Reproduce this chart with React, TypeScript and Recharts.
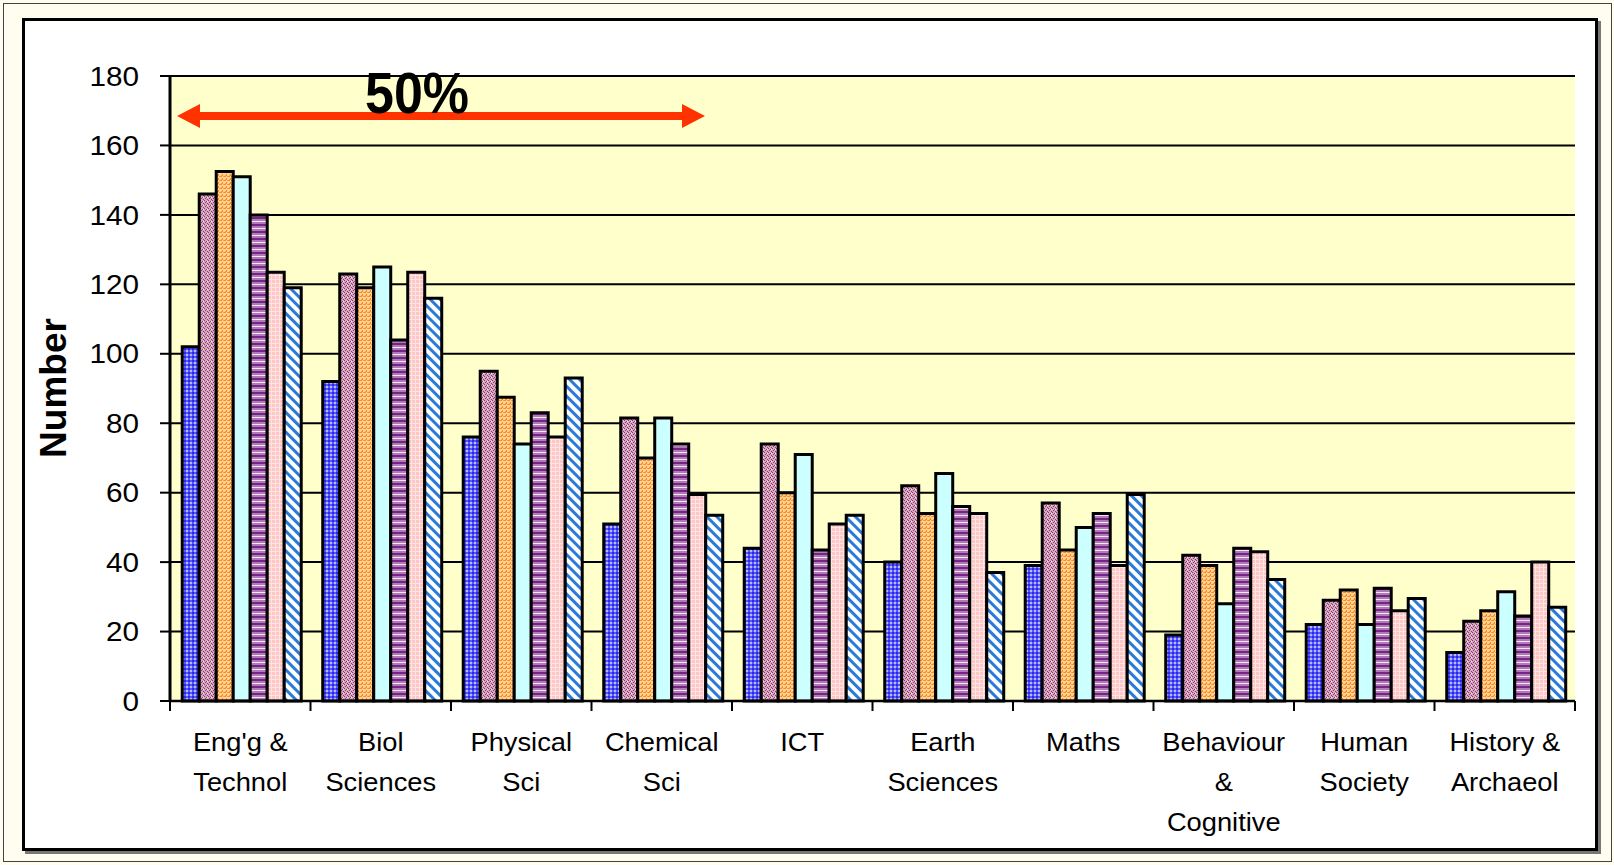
import { BarChart, Bar, XAxis, YAxis, CartesianGrid } from 'recharts'

const categories = [
  "Eng'g &\nTechnol",
  'Biol\nSciences',
  'Physical\nSci',
  'Chemical\nSci',
  'ICT',
  'Earth\nSciences',
  'Maths',
  'Behaviour\n&\nCognitive',
  'Human\nSociety',
  'History &\nArchaeol'
]

const series1 = [102, 92, 76, 51, 44, 40, 39, 19, 22, 14]
const series2 = [146, 123, 95, 81.5, 74, 62, 57, 42, 29, 23]
const series3 = [152.5, 119, 87.5, 70, 60, 54, 43.5, 39, 32, 26]
const series4 = [151, 125, 74, 81.5, 71, 65.5, 50, 28, 22, 31.5]
const series5 = [140, 104, 83, 74, 43.5, 56, 54, 44, 32.5, 24.5]
const series6 = [123.5, 123.5, 76, 59.5, 51, 54, 39, 43, 26, 40]
const series7 = [119, 116, 93, 53.5, 53.5, 37, 59.5, 35, 29.5, 27]

const yTicks = [0, 20, 40, 60, 80, 100, 120, 140, 160, 180]

const seriesList = [series1, series2, series3, series4, series5, series6, series7]
const fills = ['url(#pBlue)', 'url(#pMauve)', 'url(#pOrange)', '#ccffff', 'url(#pPurple)', 'url(#pPink)', 'url(#pDiag)']

const data = categories.map((name, i) => {
  const row: Record<string, string | number> = { name }
  seriesList.forEach((s, k) => { row['s' + (k + 1)] = s[i] })
  return row
})

const FONT = '"Liberation Sans", Arial, Helvetica, sans-serif'

function YTick({ x, y, payload }: any) {
  return (
    <text
      transform={`translate(${x},${y}) scale(1.1,1)`}
      textAnchor="end"
      dy="0.36em"
      fontSize={27}
      fontFamily={FONT}
      fill="#000"
    >
      {payload.value}
    </text>
  )
}

// category labels, plus tick marks on the boundaries between groups
function XTick({ x, y, payload, index }: any) {
  const lines = String(payload.value).split('\n')
  const half = payload.offset || 0
  const last = index === categories.length - 1
  return (
    <g>
      <line x1={x - half} x2={x - half} y1={y} y2={y + 10} stroke="#000" strokeWidth={2} />
      {last && <line x1={x + half} x2={x + half} y1={y} y2={y + 10} stroke="#000" strokeWidth={2} />}
      <g transform={`translate(${x},${y}) scale(1.05,1)`}>
        {lines.map((l, i) => (
          <text key={i} x={0} y={50 + i * 40} textAnchor="middle" fontSize={26} fontFamily={FONT} fill="#000">
            {l}
          </text>
        ))}
      </g>
    </g>
  )
}

export default function App() {
  return (
    <div style={{ position: 'absolute', left: 0, top: 0, width: 1614, height: 865, background: '#fffdf0', overflow: 'hidden' }}>
      <div style={{ position: 'absolute', left: 3, top: 3, width: 1607, height: 857, border: '1px solid #444' }} />
      <div
        style={{
          position: 'absolute', left: 22, top: 18, width: 1570, height: 827,
          border: '3px solid #000', background: '#fff', boxShadow: '3px 3px 0 #777'
        }}
      />
      <div style={{ position: 'absolute', left: 0, top: 0 }}>
        <BarChart
          width={1614}
          height={865}
          data={data}
          margin={{ top: 76, right: 39, bottom: 20, left: 20 }}
          barCategoryGap="8.7%"
          barGap={0}
        >
          <defs>
            <pattern id="pBlue" patternUnits="userSpaceOnUse" width={4} height={4}>
              <rect width={4} height={4} fill="#5656ff" />
              <rect x={0} y={0} width={2} height={2} fill="#2a2ae4" />
              <rect x={2} y={2} width={2} height={2} fill="#b8b8ff" />
            </pattern>
            <pattern id="pMauve" patternUnits="userSpaceOnUse" width={4} height={4}>
              <rect width={4} height={4} fill="#d8a8c2" />
              <rect x={0} y={0} width={1} height={1} fill="#8e3a68" />
              <rect x={2} y={1} width={1} height={1} fill="#8e3a68" />
              <rect x={1} y={2} width={1} height={1} fill="#8e3a68" />
              <rect x={3} y={3} width={1} height={1} fill="#8e3a68" />
              <rect x={3} y={1} width={1} height={1} fill="#f4e4ee" />
            </pattern>
            <pattern id="pOrange" patternUnits="userSpaceOnUse" width={4} height={4}>
              <rect width={4} height={4} fill="#ffd29a" />
              <rect x={0} y={0} width={2} height={1} fill="#ff8a1a" />
              <rect x={2} y={2} width={1} height={2} fill="#ff8a1a" />
              <rect x={3} y={0} width={1} height={1} fill="#ff9d3a" />
              <rect x={1} y={3} width={1} height={1} fill="#ff9d3a" />
            </pattern>
            <pattern id="pPurple" patternUnits="userSpaceOnUse" width={4} height={7}>
              <rect width={4} height={7} fill="#b07ab6" />
              <rect x={0} y={0} width={4} height={2} fill="#762486" />
              <rect x={0} y={4} width={4} height={1} fill="#f6e6f6" />
            </pattern>
            <pattern id="pPink" patternUnits="userSpaceOnUse" width={4} height={4}>
              <rect width={4} height={4} fill="#ffc6c6" />
              <rect x={3} y={0} width={1} height={4} fill="#ffe4e4" />
              <rect x={0} y={3} width={4} height={1} fill="#ffe4e4" />
            </pattern>
            <pattern id="pDiag" patternUnits="userSpaceOnUse" width={7} height={7} patternTransform="rotate(-45)">
              <rect width={7} height={7} fill="#ffffff" />
              <rect x={0} y={0} width={3} height={7} fill="#2a7ad8" />
            </pattern>
          </defs>
          <CartesianGrid vertical={false} stroke="#000" strokeWidth={2} fill="#ffffcc" fillOpacity={1} />
          <XAxis
            dataKey="name"
            interval={0}
            height={144}
            tickSize={0}
            tickMargin={0}
            tickLine={false}
            axisLine={{ stroke: '#000', strokeWidth: 2.5 }}
            tick={XTick}
          />
          <XAxis
            xAxisId="top"
            orientation="top"
            type="number"
            domain={[0, categories.length]}
            height={0}
            tick={false}
            tickLine={false}
            axisLine={{ stroke: '#8c8c8c', strokeWidth: 3 }}
          />
          <YAxis
            width={150}
            domain={[0, 180]}
            ticks={yTicks}
            interval={0}
            tickSize={10}
            tickMargin={21}
            axisLine={{ stroke: '#000', strokeWidth: 3 }}
            tickLine={{ stroke: '#000', strokeWidth: 2 }}
            tick={YTick}
          />
          <YAxis
            yAxisId="right"
            orientation="right"
            width={0}
            domain={[0, 180]}
            tick={false}
            tickLine={false}
            axisLine={{ stroke: '#8c8c8c', strokeWidth: 3 }}
          />
          {fills.map((f, k) => (
            <Bar key={k} dataKey={'s' + (k + 1)} fill={f} stroke="#000" strokeWidth={3} isAnimationActive={false} />
          ))}
        </BarChart>
      </div>
      <svg width={1614} height={865} style={{ position: 'absolute', left: 0, top: 0, pointerEvents: 'none' }}>
        <text
          transform="translate(53,388) rotate(-90)"
          textAnchor="middle"
          dy="0.36em"
          fontSize={37}
          fontWeight="bold"
          fontFamily={FONT}
          fill="#000"
        >
          Number
        </text>
        <line x1={196} y1={116} x2={686} y2={116} stroke="#ff3300" strokeWidth={8} />
        <polygon points="177,116 200,104 200,128" fill="#ff3300" />
        <polygon points="705,116 682,104 682,128" fill="#ff3300" />
        <text
          x={417}
          y={113}
          textAnchor="middle"
          fontSize={58}
          fontWeight="bold"
          fontFamily={FONT}
          textLength={104}
          lengthAdjust="spacingAndGlyphs"
          fill="#000"
        >
          50%
        </text>
      </svg>
    </div>
  )
}
